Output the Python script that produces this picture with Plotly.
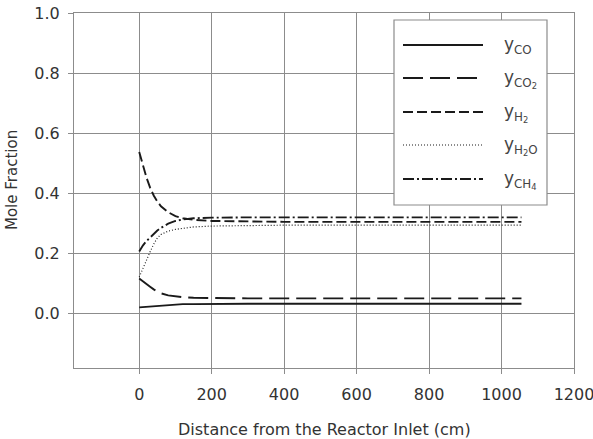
import plotly.graph_objects as go

distance = [0, 10, 20, 30, 40, 50, 60, 80, 100, 120, 150, 200, 300, 400, 600, 800, 1055]
y_co  = [0.019, 0.020, 0.021, 0.023, 0.024, 0.025, 0.026, 0.028, 0.029, 0.030, 0.030, 0.031, 0.031, 0.031, 0.031, 0.031, 0.031]
y_co2 = [0.115, 0.105, 0.096, 0.088, 0.079, 0.072, 0.066, 0.059, 0.055, 0.053, 0.051, 0.050, 0.049, 0.049, 0.049, 0.049, 0.049]
y_h2  = [0.537, 0.490, 0.452, 0.418, 0.392, 0.372, 0.356, 0.336, 0.323, 0.316, 0.311, 0.307, 0.305, 0.304, 0.304, 0.304, 0.304]
y_h2o = [0.120, 0.150, 0.178, 0.204, 0.230, 0.250, 0.262, 0.273, 0.279, 0.283, 0.287, 0.290, 0.292, 0.293, 0.293, 0.293, 0.293]
y_ch4 = [0.205, 0.225, 0.240, 0.252, 0.265, 0.275, 0.284, 0.298, 0.307, 0.312, 0.316, 0.318, 0.319, 0.319, 0.319, 0.319, 0.319]

series = [
    ("y<sub>CO</sub>", y_co, "solid", 1.9),
    ("y<sub>CO<sub>2</sub></sub>", y_co2, "20px,7px", 1.9),
    ("y<sub>H<sub>2</sub></sub>", y_h2, "10px,4px", 1.9),
    ("y<sub>H<sub>2</sub>O</sub>", y_h2o, "1px,2px", 1.2),
    ("y<sub>CH<sub>4</sub></sub>", y_ch4, "11px,3px,2px,3px", 1.9),
]
legend_labels = ["y<sub>CO</sub>", "y<sub>CO<sub>2</sub></sub>", "y<sub>H<sub>2</sub></sub>",
                 "y<sub>H<sub>2</sub>O</sub>", "y<sub>CH<sub>4</sub></sub>"]

FONT = "DejaVu Sans, Arial, sans-serif"

fig = go.Figure()
for name, ys, dash, w in series:
    fig.add_trace(go.Scatter(x=distance, y=ys, mode="lines", name=name,
                             line=dict(color="#1a1a1a", width=w, dash=dash),
                             showlegend=False))

# custom legend (box, sample lines, labels) in paper coords
L = 74; R = 574; T = 13; B = 368
def px(x): return (x - L) / (R - L)
def py(y): return (B - y) / (B - T)

shapes = [dict(type="rect", xref="paper", yref="paper", x0=px(394), x1=px(547), y0=py(205), y1=py(20),
               line=dict(color="#8c8c8c", width=1.2), fillcolor="white", layer="above")]
annotations = []
rows = [45, 78, 112, 145, 179]
for (name, ys, dash, w), lab, ry in zip(series, legend_labels, rows):
    shapes.append(dict(type="line", xref="paper", yref="paper", x0=px(403), x1=px(483), y0=py(ry), y1=py(ry),
                       line=dict(color="#1a1a1a", width=w, dash=dash), layer="above"))
    annotations.append(dict(xref="paper", yref="paper", x=px(502), y=py(ry + 1), text=lab, showarrow=False,
                            xanchor="left", yanchor="middle", font=dict(size=17, color="#444", family=FONT)))

# axis titles as annotations at the reference positions
annotations.append(dict(xref="paper", yref="paper", x=px(12), y=py(180), text="Mole Fraction",
                        textangle=-90, showarrow=False, xanchor="center", yanchor="middle",
                        font=dict(size=15, color="#333", family=FONT)))
annotations.append(dict(xref="paper", yref="paper", x=px(324), y=py(429),
                        text="Distance from the Reactor Inlet (cm)",
                        showarrow=False, xanchor="center", yanchor="middle",
                        font=dict(size=16, color="#333", family=FONT)))

fig.update_layout(
    width=593, height=439,
    margin=dict(l=L, r=593 - R, t=T, b=439 - B, autoexpand=False),
    paper_bgcolor="white", plot_bgcolor="white",
    font=dict(family=FONT, size=16, color="#333"),
    shapes=shapes, annotations=annotations,
    xaxis=dict(range=[-180, 1200], tickvals=[0, 200, 400, 600, 800, 1000, 1200],
               showgrid=True, gridcolor="#8c8c8c", gridwidth=1,
               showline=True, linecolor="#8c8c8c", linewidth=1.2, mirror=True,
               ticks="outside", ticklen=5, tickcolor="#8c8c8c", zeroline=False,
               ticklabelstandoff=7, ticklabeloverflow="allow", automargin=False,
               tickfont=dict(size=16)),
    yaxis=dict(range=[-0.183, 1.0], tickvals=[0, 0.2, 0.4, 0.6, 0.8, 1.0], tickformat=".1f",
               showgrid=True, gridcolor="#8c8c8c", gridwidth=1,
               showline=True, linecolor="#8c8c8c", linewidth=1.2, mirror=True,
               ticks="outside", ticklen=5, tickcolor="#8c8c8c", zeroline=False,
               ticklabelstandoff=5, ticklabeloverflow="allow", automargin=False,
               tickfont=dict(size=16)),
)

fig.write_html("out.html")
